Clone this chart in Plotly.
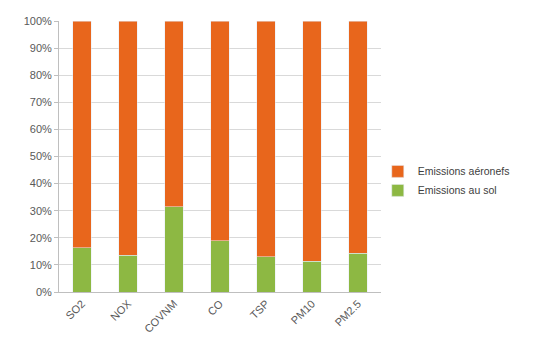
import plotly.graph_objects as go

categories = ["SO2", "NOX", "COVNM", "CO", "TSP", "PM10", "PM2.5"]
sol = [16.4, 13.5, 31.4, 19.0, 13.0, 11.3, 14.3]
aero = [100 - v for v in sol]

fig = go.Figure()
fig.add_trace(go.Bar(x=categories, y=sol, name="Emissions au sol", marker_color="#8DB843"))
fig.add_trace(go.Bar(x=categories, y=aero, name="Emissions aéronefs", marker_color="#E8661C"))

fig.update_layout(
    barmode="stack",
    bargap=0.6,
    width=539, height=347,
    margin=dict(l=59, r=158, t=21, b=52),
    plot_bgcolor="white", paper_bgcolor="white",
    font=dict(family="Liberation Sans", size=11, color="#595959"),
    legend=dict(traceorder="reversed", x=0.99, y=0.41, xanchor="left", yanchor="middle",
                bgcolor="rgba(0,0,0,0)", tracegroupgap=6,
                font=dict(size=10.5, color="#404040"), itemwidth=30),
    showlegend=True,
)
fig.update_yaxes(range=[0, 100], tickvals=list(range(0, 101, 10)),
                 ticktext=[f"{v}%" for v in range(0, 101, 10)],
                 showgrid=True, gridcolor="#D9D9D9", gridwidth=1,
                 showline=True, linecolor="#BFBFBF", ticks="outside", ticklen=4, tickcolor="#BFBFBF")
fig.update_xaxes(tickangle=-45, showline=True, linecolor="#BFBFBF")

fig.write_html("out.html")
